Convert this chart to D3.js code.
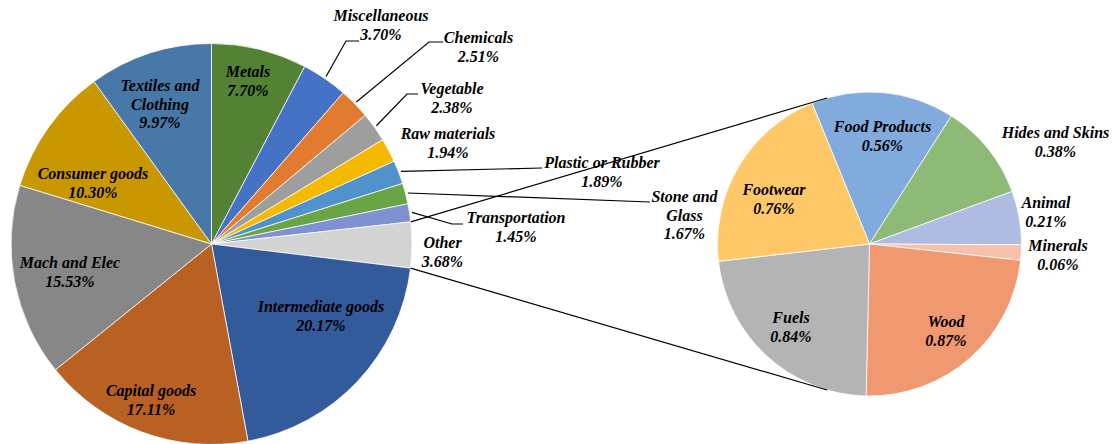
<!DOCTYPE html>
<html>
<head>
<meta charset="utf-8">
<script src="https://cdn.jsdelivr.net/npm/d3@7"></script>
<style>
  html, body { margin: 0; padding: 0; background: #fff; }
  .lbl { font-family: "Liberation Serif", "Times New Roman", serif; font-size: 16px; font-weight: bold; font-style: italic; fill: #000; }
</style>
</head>
<body>
<div id="chart"></div>
<script>
// main pie, clockwise from 12 o'clock
const mainCats = ['Metals', 'Miscellaneous', 'Chemicals', 'Vegetable', 'Raw materials', 'Plastic or Rubber',
  'Stone and Glass', 'Transportation', 'Other', 'Intermediate goods', 'Capital goods', 'Mach and Elec',
  'Consumer goods', 'Textiles and Clothing'];
const mainVals = [7.70, 3.70, 2.51, 2.38, 1.94, 1.89, 1.67, 1.45, 3.68, 20.17, 17.11, 15.53, 10.30, 9.97];

// breakdown of "Other"
const detailCats = ['Food Products', 'Hides and Skins', 'Animal', 'Minerals', 'Wood', 'Fuels', 'Footwear'];
const detailVals = [0.56, 0.38, 0.21, 0.06, 0.87, 0.84, 0.76];

const mainColors = ['#548235', '#4472c4', '#e27a30', '#9e9e9e', '#f5ba00', '#5092cb', '#69a544',
  '#7f91d3', '#d3d3d3', '#335a9b', '#b96123', '#878787', '#c99700', '#4878a8'];
const detailColors = ['#80abdc', '#8eba77', '#afbbe0', '#f5c1aa', '#f0986f', '#b4b4b4', '#fec868'];

const W = 1115, H = 444;
const c1 = { x: 211.5, y: 244, r: 200.5 };
const c2 = { x: 869.5, y: 244, r: 152 };
const rad = deg => deg * Math.PI / 180;
const lineH = 18.5;

// label placement: [centre x, first baseline y]
const labelPos = {
  'Metals': [248, 77], 'Miscellaneous': [381, 21], 'Chemicals': [478.5, 43], 'Vegetable': [452, 94],
  'Raw materials': [448, 139], 'Plastic or Rubber': [602, 168], 'Stone and Glass': [684.5, 202],
  'Transportation': [516, 223], 'Other': [442.5, 248], 'Intermediate goods': [321, 312],
  'Capital goods': [151, 396], 'Mach and Elec': [70, 268], 'Consumer goods': [93, 179],
  'Textiles and Clothing': [160, 91],
  'Food Products': [882.5, 132], 'Hides and Skins': [1055.5, 138], 'Animal': [1046, 208],
  'Minerals': [1058, 251], 'Wood': [946, 327], 'Fuels': [791, 323], 'Footwear': [774, 195]
};
// leader lines: [elbow x, elbow y, end x]
const leaders = {
  'Miscellaneous': [346, 41, 359], 'Chemicals': [429, 42, 443], 'Vegetable': [407, 94, 418],
  'Plastic or Rubber': [542, 168, 542], 'Stone and Glass': [650, 202, 650], 'Transportation': [452, 224, 463]
};
const wrap = { 'Textiles and Clothing': ['Textiles and', 'Clothing'], 'Stone and Glass': ['Stone and', 'Glass'] };

const svg = d3.select('#chart').append('svg')
  .attr('width', W)
  .attr('height', H);

svg.append('rect').attr('width', W).attr('height', H).attr('fill', '#fff');

const colorMain = d3.scaleOrdinal().domain(mainCats).range(mainColors);
const colorDetail = d3.scaleOrdinal().domain(detailCats).range(detailColors);

const mainData = d3.pie().sort(null).value(d => d.v)
  .startAngle(0).endAngle(2 * Math.PI)(mainCats.map((c, i) => ({ c, v: mainVals[i] })));

const detailStart = rad(-22.2);
const detailData = d3.pie().sort(null).value(d => d.v)
  .startAngle(detailStart).endAngle(detailStart + 2 * Math.PI)(detailCats.map((c, i) => ({ c, v: detailVals[i] })));

const g1 = svg.append('g').attr('transform', `translate(${c1.x},${c1.y})`);
const g2 = svg.append('g').attr('transform', `translate(${c2.x},${c2.y})`);

g1.selectAll('path')
  .data(mainData)
  .enter()
  .append('path')
  .attr('d', d3.arc().innerRadius(0).outerRadius(c1.r))
  .attr('fill', d => colorMain(d.data.c))
  .attr('stroke', '#fff')
  .attr('stroke-width', 0.75);

g2.selectAll('path')
  .data(detailData)
  .enter()
  .append('path')
  .attr('d', d3.arc().innerRadius(0).outerRadius(c2.r))
  .attr('fill', d => colorDetail(d.data.c))
  .attr('stroke', '#fff')
  .attr('stroke-width', 0.75);

const polar = (c, r, a) => [c.x + r * Math.sin(a), c.y - r * Math.cos(a)];

// connector lines between "Other" and the second pie
const other = mainData.find(d => d.data.c === 'Other');
const conn = [
  [polar(c1, c1.r, other.startAngle), polar(c2, c2.r, rad(-16.2))],
  [polar(c1, c1.r, other.endAngle), polar(c2, c2.r, rad(196.2))]
];
svg.selectAll('.conn')
  .data(conn)
  .enter()
  .append('line')
  .attr('class', 'conn')
  .attr('x1', d => d[0][0]).attr('y1', d => d[0][1])
  .attr('x2', d => d[1][0]).attr('y2', d => d[1][1])
  .attr('stroke', '#000')
  .attr('stroke-width', 1.2);

// leader lines
svg.selectAll('.leader')
  .data(mainData.filter(d => leaders[d.data.c]))
  .enter()
  .append('polyline')
  .attr('class', 'leader')
  .attr('points', d => {
    const p = polar(c1, c1.r * 1.012, (d.startAngle + d.endAngle) / 2);
    const l = leaders[d.data.c];
    return [p, [l[0], l[1]], [l[2], l[1]]].map(q => q.join(',')).join(' ');
  })
  .attr('fill', 'none')
  .attr('stroke', '#000')
  .attr('stroke-width', 1.2);

// labels
const allLabels = mainData.concat(detailData);
const texts = svg.selectAll('.lbl')
  .data(allLabels)
  .enter()
  .append('text')
  .attr('class', 'lbl')
  .attr('text-anchor', 'middle');

texts.each(function (d) {
  const pos = labelPos[d.data.c];
  const lines = (wrap[d.data.c] || [d.data.c]).concat([d.data.v.toFixed(2) + '%']);
  d3.select(this).selectAll('tspan')
    .data(lines)
    .enter()
    .append('tspan')
    .attr('x', pos[0])
    .attr('y', (t, i) => pos[1] + i * lineH)
    .text(t => t);
});
</script>
</body>
</html>
